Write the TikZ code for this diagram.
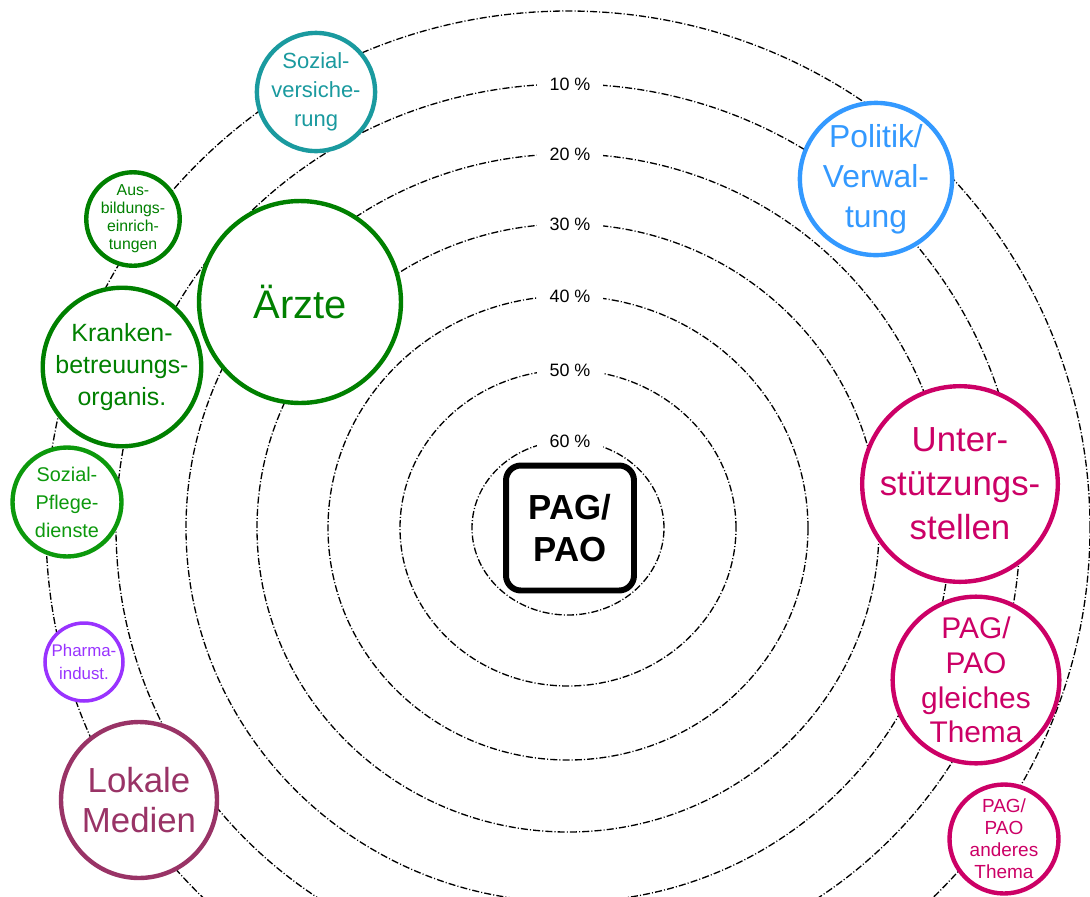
\documentclass[tikz,border=0pt]{standalone}
\usepackage{fontspec}
\setmainfont{Liberation Sans}
\usepackage{xcolor}
\definecolor{tealsv}{HTML}{1A9A9F}
\definecolor{greenA}{HTML}{008000}
\definecolor{greenB}{HTML}{0C990C}
\definecolor{purpleph}{HTML}{9933FF}
\definecolor{plumlm}{HTML}{993366}
\definecolor{bluepv}{HTML}{3399FF}
\definecolor{magus}{HTML}{CC0066}

\begin{document}
\begin{tikzpicture}[
        x=0.02cm, y=-0.02cm,
        ring/.style={draw=black, line width=0.75pt, dash pattern=on 4pt off 1.2pt on 0.6pt off 1.2pt},
        pct/.style={fill=white, inner xsep=7pt, inner ysep=1pt, font=\fontsize{10.2}{12}\selectfont},
        bubble/.style={circle, draw, fill=white, line width=2.5pt, inner sep=0pt, align=center}
      ]
      \useasboundingbox (0,0) rectangle (1090,897);
      \clip (0,0) rectangle (1090,897);
      \draw[ring] (568,528) ellipse [x radius=522*0.02cm, y radius=517*0.02cm];
      \foreach \rx/\ry/\p in {452/444/10, 382/374/20, 311/304/30, 240/232/40, 168/158/50, 96/87/60} {
        \draw[ring] (568,528) ellipse [x radius={\rx*0.02cm}, y radius={\ry*0.02cm}];
        \node[pct] (p\p) at (570,{528-\ry}) {\p\ \%};
      }
      \node[draw, line width=3.4pt, rounded corners=8.5pt, minimum width=2.56cm, minimum height=2.5cm,
            align=center, font=\fontsize{19.8}{24.4}\selectfont\bfseries] (pag) at (570,528) {PAG/\\PAO};
      \node[bubble, draw=tealsv, text=tealsv, minimum size=1.96cm, font=\fontsize{12.5}{16.4}\selectfont] (sozv) at (316,92) {Sozial-\\versiche-\\rung};
      \node[bubble, draw=greenA, text=greenA, minimum size=1.64cm, font=\fontsize{9}{10.2}\selectfont] (ausb) at (133,219) {Aus-\\bildungs-\\einrich-\\tungen};
      \node[bubble, draw=greenA, text=greenA, minimum size=4.04cm, font=\fontsize{22.7}{26}\selectfont] (arzt) at (300,302) {Ärzte};
      \node[bubble, draw=greenA, text=greenA, minimum size=3.08cm, font=\fontsize{14.2}{18.1}\selectfont] (krank) at (122,367) {Kranken-\\betreuungs-\\organis.};
      \node[bubble, draw=greenB, text=greenB, minimum size=2.18cm, font=\fontsize{11.3}{15.9}\selectfont] (spfl) at (67,502) {Sozial-\\Pflege-\\dienste};
      \node[bubble, draw=purpleph, text=purpleph, minimum size=1.56cm, line width=2pt, font=\fontsize{9.6}{13.6}\selectfont] (pharm) at (84,662) {Pharma-\\indust.};
      \node[bubble, draw=plumlm, text=plumlm, minimum size=3.12cm, font=\fontsize{19.8}{22.7}\selectfont] (lokal) at (139,800) {Lokale\\Medien};
      \node[bubble, draw=bluepv, text=bluepv, minimum size=3.0cm, font=\fontsize{18.1}{22.7}\selectfont] (polit) at (876,179) {Politik/\\Verwal-\\tung};
      \node[bubble, draw=magus, text=magus, minimum size=3.64cm, font=\fontsize{19.8}{25}\selectfont] (unter) at (960,484) {Unter-\\stützungs-\\stellen};
      \node[bubble, draw=magus, text=magus, minimum size=3.28cm, font=\fontsize{17}{19.8}\selectfont] (gleich) at (976,680) {PAG/\\PAO\\gleiches\\Thema};
      \node[bubble, draw=magus, text=magus, minimum size=2.18cm, font=\fontsize{10.8}{12.5}\selectfont] (ander) at (1004,839) {PAG/\\PAO\\anderes\\Thema};
    \end{tikzpicture}
\end{document}
